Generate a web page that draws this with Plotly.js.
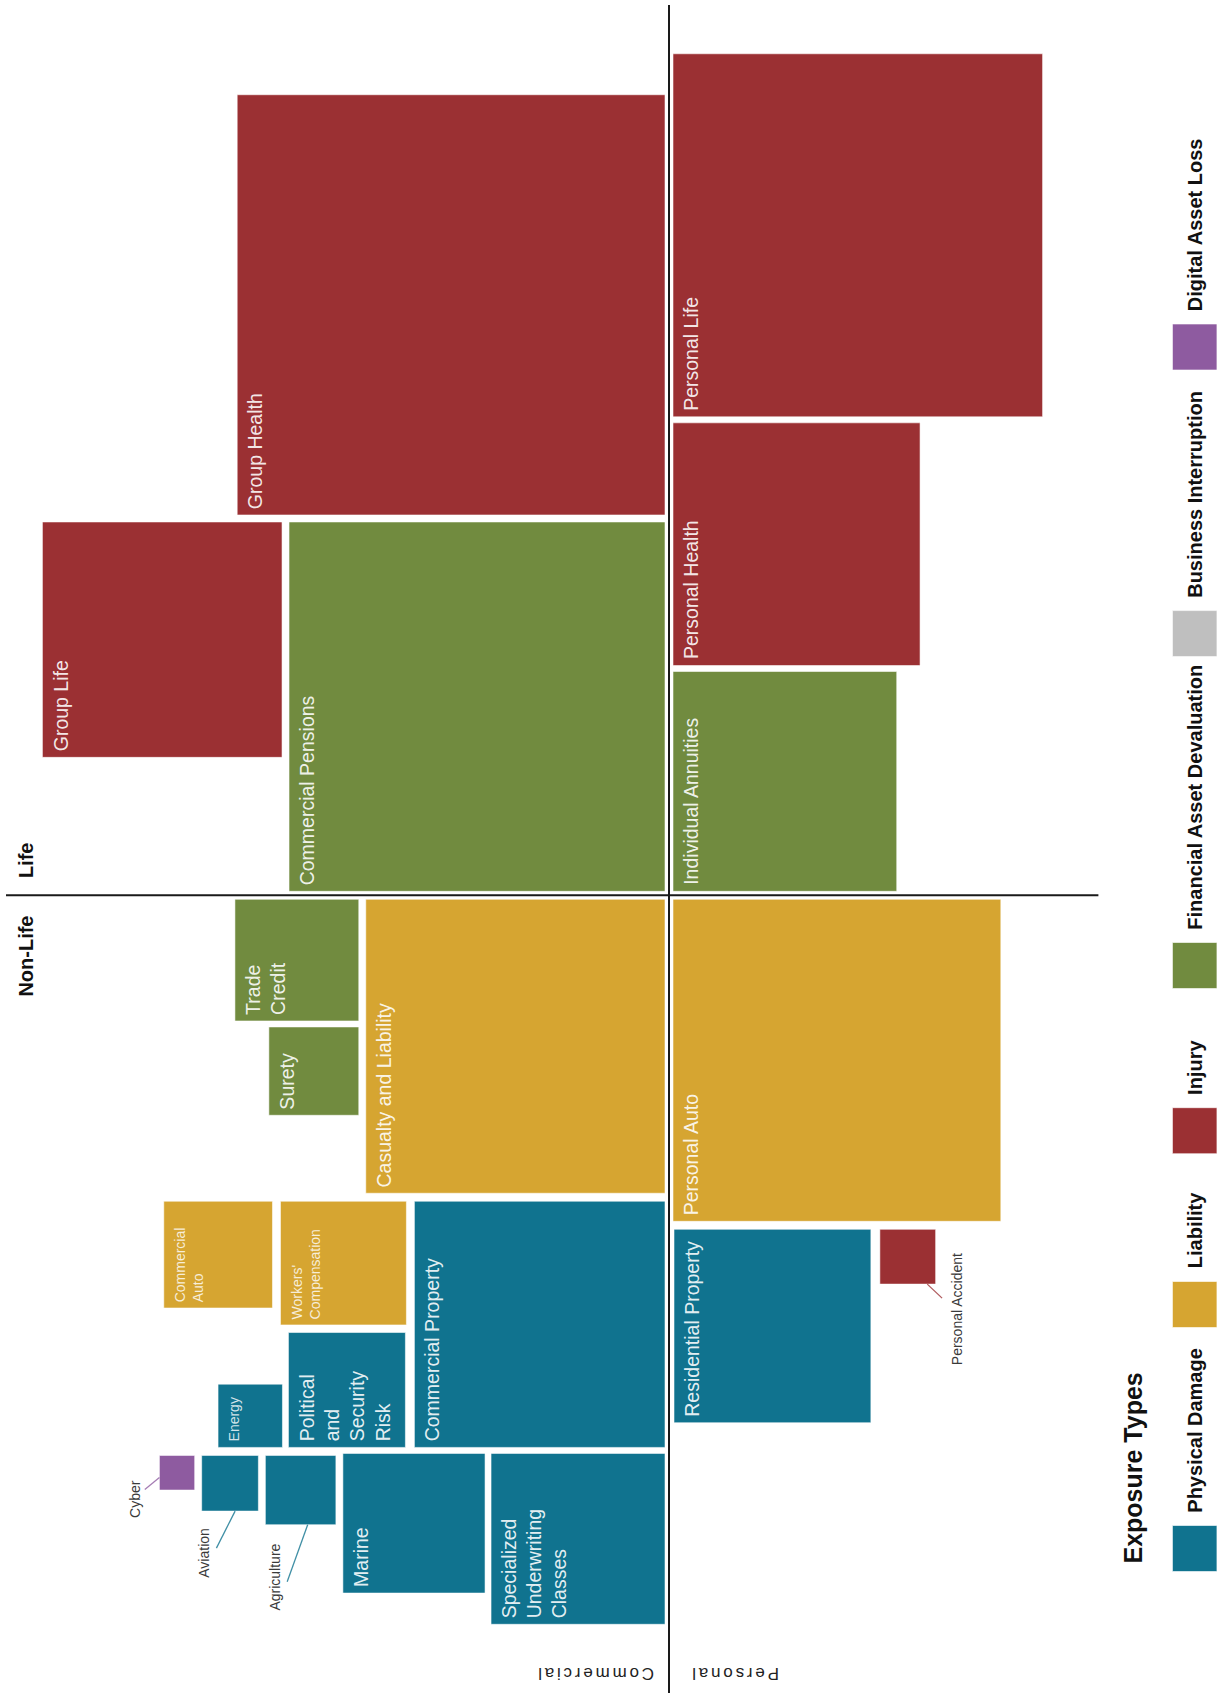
<!DOCTYPE html>
<html>
<head>
<meta charset="utf-8">
<script src="https://cdn.plot.ly/plotly-3.0.1.min.js"></script>
<style>
html,body{margin:0;padding:0;background:#ffffff;}
#chart{width:1223px;height:1693px;}
text.annotation-text[data-unformatted="Commercial"],
text.annotation-text[data-unformatted="Personal"]{letter-spacing:2.8px;}
</style>
</head>
<body>
<div id="chart"></div>
<script>
// ------------------------- DATA -------------------------
const lines = [
  "Commercial Pensions","Group Health","Group Life",
  "Individual Annuities","Personal Health","Personal Life",
  "Casualty and Liability","Trade Credit","Surety","Commercial Property",
  "Workers' Compensation","Commercial Auto","Political and Security Risk","Energy",
  "Specialized Underwriting Classes","Marine","Agriculture","Aviation","Cyber",
  "Personal Auto","Residential Property","Personal Accident"
];
const segment = [
  "Commercial","Commercial","Commercial",
  "Personal","Personal","Personal",
  "Commercial","Commercial","Commercial","Commercial",
  "Commercial","Commercial","Commercial","Commercial",
  "Commercial","Commercial","Commercial","Commercial","Commercial",
  "Personal","Personal","Personal"
];
const branch = [
  "Life","Life","Life",
  "Life","Life","Life",
  "Non-Life","Non-Life","Non-Life","Non-Life",
  "Non-Life","Non-Life","Non-Life","Non-Life",
  "Non-Life","Non-Life","Non-Life","Non-Life","Non-Life",
  "Non-Life","Non-Life","Non-Life"
];
const exposure = [
  "Financial Asset Devaluation","Injury","Injury",
  "Financial Asset Devaluation","Injury","Injury",
  "Liability","Financial Asset Devaluation","Financial Asset Devaluation","Physical Damage",
  "Liability","Liability","Physical Damage","Physical Damage",
  "Physical Damage","Physical Damage","Physical Damage","Physical Damage","Digital Asset Loss",
  "Liability","Physical Damage","Injury"
];
// relative market size (square area)
const premiumIndex = [
  1364, 1766, 554,
  483, 589, 1318,
  864, 148, 78, 606,
  153, 114, 132, 40,
  292, 195, 48, 31, 12,
  1037, 374, 30
];
const labelText = [
  "Commercial Pensions","Group Health","Group Life",
  "Individual Annuities","Personal Health","Personal Life",
  "Casualty and Liability","Trade<br>Credit","Surety","Commercial Property",
  "Workers'<br>Compensation","Commercial<br>Auto","Political<br>and<br>Security<br>Risk","Energy",
  "Specialized<br>Underwriting<br>Classes","Marine","Agriculture","Aviation","Cyber",
  "Personal Auto","Residential Property","Personal Accident"
];
const exposureTypes = ["Physical Damage","Liability","Injury","Financial Asset Devaluation","Business Interruption","Digital Asset Loss"];
const exposureColors = ["#10738F","#D6A531","#9B3033","#718B3F","#BFBFBF","#8E5BA0"];
const legendTitle = "Exposure Types";
const segmentLabels = ["Commercial","Personal"];
const branchLabels = ["Life","Non-Life"];

// ------------------------- LAYOUT CONFIG -------------------------
const W = 1223, H = 1693;
const CX = 669, CY = 895.3;          // quadrant dividers
const K = 10, AX = 1.018;            // square side scale, x/y pixel aspect
const FONT = "Liberation Sans, Arial, sans-serif";

// packing rules: [kind, ref, gap]; inner edge = edge facing the dividers
const placement = {
  "Commercial Pensions": {x:["axis",4], y:["axis",4]},
  "Group Health": {x:["axis",4], y:["after","Commercial Pensions",7]},
  "Group Life": {x:["after","Commercial Pensions",7], y:["alignOuter","Commercial Pensions"]},
  "Individual Annuities": {x:["axis",4], y:["axis",4]},
  "Personal Health": {x:["axis",4], y:["after","Individual Annuities",6]},
  "Personal Life": {x:["axis",4], y:["after","Personal Health",6]},
  "Casualty and Liability": {x:["axis",4], y:["axis",4]},
  "Trade Credit": {x:["after","Casualty and Liability",7], y:["alignInner","Casualty and Liability"]},
  "Surety": {x:["alignInner","Trade Credit"], y:["after","Trade Credit",6]},
  "Commercial Property": {x:["axis",4], y:["after","Casualty and Liability",8]},
  "Workers' Compensation": {x:["after","Commercial Property",8], y:["alignInner","Commercial Property"]},
  "Commercial Auto": {x:["after","Workers' Compensation",8], y:["alignInner","Commercial Property"]},
  "Political and Security Risk": {x:["after","Commercial Property",9], y:["alignOuter","Commercial Property"]},
  "Energy": {x:["after","Political and Security Risk",6], y:["alignOuter","Political and Security Risk"]},
  "Specialized Underwriting Classes": {x:["axis",4], y:["after","Commercial Property",6]},
  "Marine": {x:["after","Specialized Underwriting Classes",6], y:["alignInner","Specialized Underwriting Classes"]},
  "Agriculture": {x:["after","Marine",7], y:["after","Commercial Property",8]},
  "Aviation": {x:["after","Agriculture",7], y:["alignInner","Agriculture"]},
  "Cyber": {x:["after","Aviation",7], y:["alignInner","Agriculture"]},
  "Personal Auto": {x:["axis",4], y:["axis",4]},
  "Residential Property": {x:["axis",5], y:["after","Personal Auto",8]},
  "Personal Accident": {x:["after","Residential Property",9], y:["alignInner","Residential Property"]}
};
const smallInside = ["Workers' Compensation","Commercial Auto","Energy"];
// leader-line labels: start on box (fraction), end offset, label offset from end
const leaders = {
  "Cyber": {fx:0, fy:0.64, dx:-14.6, dy:12, lx:-9.3, ly:9.8},
  "Aviation": {fx:0.59, fy:1, dx:-18.7, dy:37, lx:-12.8, ly:5},
  "Agriculture": {fx:0.6, fy:1, dx:-20.5, dy:57, lx:-11.7, ly:-4.6},
  "Personal Accident": {fx:0.85, fy:1, dx:14.8, dy:14, lx:14.8, ly:11.2}
};
const legendX = 1194.7, legendSw = 44.5, legendSh = 46;
const legendSlotY = [1548.5, 1304.5, 1130.7, 965.5, 633.6, 347];

// ------------------------- COMPUTE BOXES -------------------------
const boxes = {};
function resolve(rule, axis, s, size){
  const c = axis === "x" ? CX : CY;
  const kind = rule[0];
  if (kind === "axis") return c + s*rule[1];
  const r = boxes[rule[1]];
  const ri = axis === "x" ? r.xi : r.yi;
  const ro = axis === "x" ? r.xo : r.yo;
  if (kind === "after") return ro + s*rule[2];
  if (kind === "alignInner") return ri;
  if (kind === "alignOuter") return ro - s*size;
  return c;
}
lines.forEach((name, i) => {
  const sx = segment[i] === "Commercial" ? -1 : 1;
  const sy = branch[i] === "Life" ? -1 : 1;
  const h = K*Math.sqrt(premiumIndex[i]);
  const w = h*AX;
  const p = placement[name];
  const xi = resolve(p.x, "x", sx, w);
  const yi = resolve(p.y, "y", sy, h);
  const xo = xi + sx*w, yo = yi + sy*h;
  boxes[name] = {xi, xo, yi, yo, w, h, i,
    x0:Math.min(xi,xo), x1:Math.max(xi,xo), y0:Math.min(yi,yo), y1:Math.max(yi,yo)};
});

// ------------------------- TRACES -------------------------
const traces = [];
exposureTypes.forEach((et, k) => {
  const xs = [], ys = [];
  lines.forEach((name, i) => {
    if (exposure[i] !== et) return;
    const b = boxes[name];
    xs.push(b.x0, b.x1, b.x1, b.x0, b.x0, null);
    ys.push(b.y0, b.y0, b.y1, b.y1, b.y0, null);
  });
  traces.push({
    type:"scatter", mode:"lines", name:et, x:xs, y:ys,
    fill:"toself", fillcolor:exposureColors[k],
    line:{color:"rgba(255,255,255,0.55)", width:1},
    hoverinfo:"skip", showlegend:false
  });
});

const annotations = [];
lines.forEach((name, i) => {
  const b = boxes[name];
  const col = exposureColors[exposureTypes.indexOf(exposure[i])];
  const ld = leaders[name];
  if (ld) {
    const sxp = b.x0 + ld.fx*(b.x1 - b.x0);
    const syp = b.y0 + ld.fy*(b.y1 - b.y0);
    const ex = sxp + ld.dx, ey = syp + ld.dy;
    traces.push({type:"scatter", mode:"lines", x:[sxp, ex], y:[syp, ey],
      line:{color:col, width:1.3}, opacity:0.8, hoverinfo:"skip", showlegend:false});
    annotations.push({x:ex + ld.lx, y:ey + ld.ly, xref:"x", yref:"y",
      text:labelText[i], showarrow:false, textangle:-90,
      xanchor:"center", yanchor:"middle", borderpad:0, borderwidth:0,
      font:{family:FONT, size:14, color:"#3a3a3a"}});
  } else if (smallInside.indexOf(name) >= 0) {
    annotations.push({x:b.x0 + 8, y:b.y1 - 6, xref:"x", yref:"y",
      text:labelText[i], showarrow:false, textangle:-90, align:"left",
      xanchor:"left", yanchor:"bottom", borderpad:0, borderwidth:0,
      font:{family:FONT, size:14, color:"rgba(255,255,255,0.82)"}});
  } else {
    annotations.push({x:b.x0 + 7, y:b.y1 - 6, xref:"x", yref:"y",
      text:labelText[i], showarrow:false, textangle:-90, align:"left",
      xanchor:"left", yanchor:"bottom", borderpad:0, borderwidth:0,
      font:{family:FONT, size:19.5, color:"rgba(255,255,255,0.9)"}});
  }
});

// quadrant labels
annotations.push({x:25.8, y:CY - 17, xref:"x", yref:"y", text:branchLabels[0], showarrow:false,
  textangle:-90, xanchor:"center", yanchor:"bottom", borderpad:0, borderwidth:0,
  font:{family:FONT, size:20, color:"#111", weight:"bold"}});
annotations.push({x:25.8, y:CY + 20, xref:"x", yref:"y", text:branchLabels[1], showarrow:false,
  textangle:-90, xanchor:"center", yanchor:"top", borderpad:0, borderwidth:0,
  font:{family:FONT, size:20, color:"#111", weight:"bold"}});
annotations.push({x:CX - 74.5, y:1674.2, xref:"x", yref:"y", text:segmentLabels[0], showarrow:false,
  textangle:180, xanchor:"center", yanchor:"middle", borderpad:0, borderwidth:0,
  font:{family:FONT, size:17, color:"#222"}});
annotations.push({x:CX + 65, y:1674.2, xref:"x", yref:"y", text:segmentLabels[1], showarrow:false,
  textangle:180, xanchor:"center", yanchor:"middle", borderpad:0, borderwidth:0,
  font:{family:FONT, size:17, color:"#222"}});

// legend
const shapes = [
  {type:"line", xref:"x", yref:"y", x0:CX, x1:CX, y0:5, y1:H, line:{color:"#1a1a1a", width:2}},
  {type:"line", xref:"x", yref:"y", x0:6, x1:1098.4, y0:CY, y1:CY, line:{color:"#1a1a1a", width:2}}
];
annotations.push({x:1132.5, y:1468, xref:"x", yref:"y", text:legendTitle, showarrow:false,
  textangle:-90, xanchor:"center", yanchor:"middle", borderpad:0, borderwidth:0,
  font:{family:FONT, size:25, color:"#111", weight:"bold"}});
exposureTypes.forEach((et, k) => {
  const yc = legendSlotY[k];
  shapes.push({type:"rect", xref:"x", yref:"y",
    x0:legendX - legendSw/2, x1:legendX + legendSw/2, y0:yc - legendSh/2, y1:yc + legendSh/2,
    fillcolor:exposureColors[k], line:{color:"rgba(255,255,255,0.6)", width:1}});
  annotations.push({x:legendX, y:yc - legendSh/2 - 13, xref:"x", yref:"y", text:et, showarrow:false,
    textangle:-90, xanchor:"center", yanchor:"bottom", borderpad:0, borderwidth:0,
    font:{family:FONT, size:20, color:"#111", weight:"bold"}});
});

const layout = {
  width:W, height:H,
  margin:{l:0, r:0, t:0, b:0, pad:0},
  paper_bgcolor:"#ffffff", plot_bgcolor:"#ffffff",
  xaxis:{range:[0, W], visible:false, fixedrange:true},
  yaxis:{range:[H, 0], visible:false, fixedrange:true},
  showlegend:false,
  shapes:shapes,
  annotations:annotations
};
Plotly.newPlot("chart", traces, layout, {displayModeBar:false, staticPlot:true});
</script>
</body>
</html>
